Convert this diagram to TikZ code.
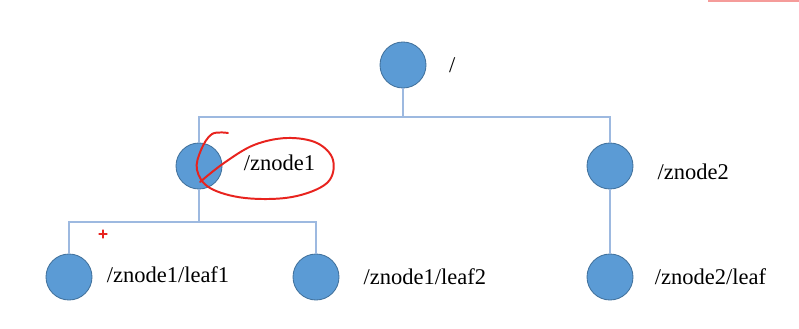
\documentclass[tikz,border=0pt]{standalone}
\usepackage{fontspec}
\setmainfont{Liberation Serif}
\usetikzlibrary{positioning}

\definecolor{zfill}{HTML}{5B9BD5}
\definecolor{zline}{HTML}{41719C}
\definecolor{link}{HTML}{9DB9E0}
\definecolor{pen}{HTML}{E8231E}

\tikzset{
  znode/.style={circle,fill=zfill,draw=zline,line width=0.6pt,minimum size=1.15cm,inner sep=0pt},
  zlabel/.style={font=\fontsize{16}{18}\selectfont,anchor=west,inner sep=0pt},
  link/.style={draw=link,line width=1pt},
  mark pen/.style={draw=pen,line width=1.4pt,line cap=round,line join=round}
}

\begin{document}
\begin{tikzpicture}[x=0.025cm,y=-0.025cm,node distance=12pt]

  \useasboundingbox (0,0) rectangle (799,328);

  % tree nodes
  \node[znode] (root) at (403,65) {};
  \node[znode] (znode1) at (199,166) {};
  \node[znode] (znode2) at (610,166) {};
  \node[znode] (leaf1) at (69,277) {};
  \node[znode] (leaf2) at (316,277) {};
  \node[znode] (leaf) at (610,277) {};

  % path names
  \node[zlabel] (lroot) [right=16pt of root] {/};
  \node[zlabel] (l1) [right=15pt of znode1,yshift=2pt] {/znode1};
  \node[zlabel] (l2) [right=17pt of znode2,yshift=-4pt] {/znode2};
  \node[zlabel] (l11) [right=10pt of leaf1,yshift=2pt] {/znode1/leaf1};
  \node[zlabel] (l12) [right=17pt of leaf2] {/znode1/leaf2};
  \node[zlabel] (l21) [right=15pt of leaf] {/znode2/leaf};

  % connectors
  \coordinate (bus) at (403,117);
  \coordinate (bus1) at (199,222);
  \draw[link] (root) -- (bus);
  \draw[link] (znode1) |- (bus) -| (znode2);
  \draw[link] (znode1) -- (bus1);
  \draw[link] (leaf1) |- (bus1) -| (leaf2);
  \draw[link] (znode2) -- (leaf);

  % red pen marks
  \draw[mark pen] plot[smooth,tension=0.6] coordinates {
    (228,133) (212,134) (201,150) (197,170) (210,188) (245,198)
    (292,197) (327,183) (333,160) (317,143) (287,138) (254,145) (224,163) (200,182)};
  \draw[mark pen,line width=0.9pt] (99,234) -- (107,234) (103,230) -- (103,238);
  \fill[pen!45] (708,0) rectangle (799,2);

\end{tikzpicture}
\end{document}
